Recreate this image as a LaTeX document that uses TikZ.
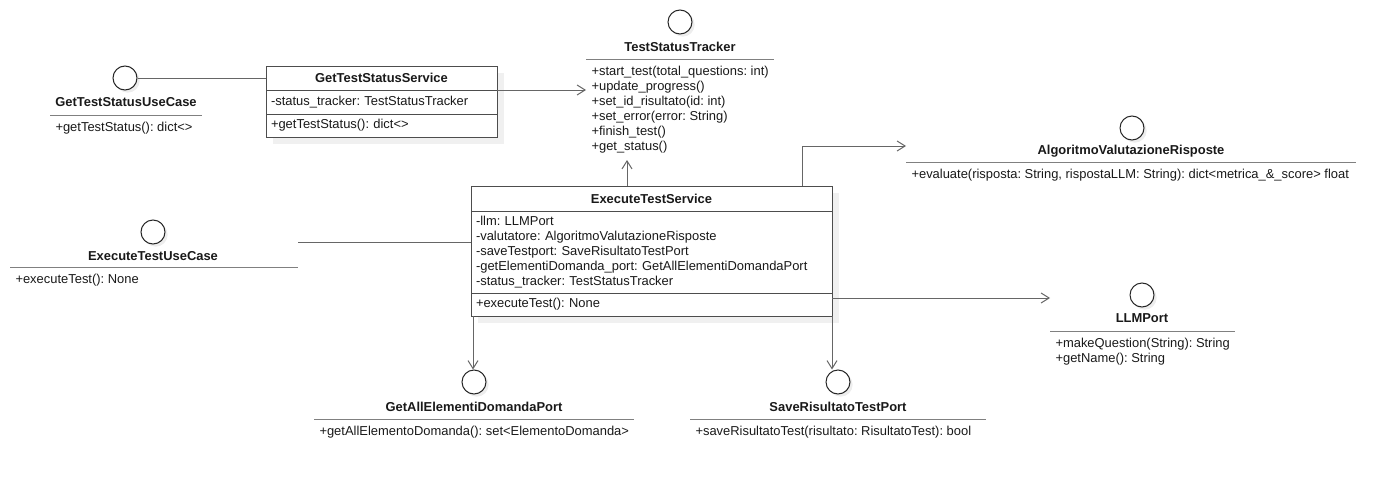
\documentclass[tikz,border=0pt]{standalone}
\usepackage{fontspec}
\setmainfont{Liberation Sans}
\usetikzlibrary{arrows.meta,positioning,shadows}
\tikzset{>={Straight Barb[length=6pt,width=7.5pt]}}
\definecolor{boxline}{HTML}{4D4D4D}
\definecolor{conn}{HTML}{666666}
\definecolor{under}{HTML}{808080}
\newcommand*{\umlfont}{\fontsize{9.7}{11.25}\selectfont\frenchspacing}

\begin{document}
\begin{tikzpicture}[x=0.75pt, y=-0.75pt, line width=0.75pt,
    every node/.style={font=\umlfont, text=black!90},
    port/.style={circle, draw=black!85, fill=white, minimum size=18pt, inner sep=0pt,
        drop shadow={shadow xshift=2pt, shadow yshift=-2pt, fill=black!7, opacity=1}},
    ptitle/.style={font=\umlfont\bfseries, inner sep=1pt},
    members/.style={anchor=north west, align=left, inner xsep=3.75pt, inner ysep=5pt},
    box/.style={draw=boxline, fill=white, inner xsep=3.75pt, inner ysep=0pt, outer sep=0pt,
        drop shadow={shadow xshift=5pt, shadow yshift=-5pt, fill=black!6, opacity=1}},
    boxtitle/.style={box, font=\umlfont\bfseries, align=center},
    boxpart/.style={box, below=0pt of #1, align=left},
    sep/.style={draw=under},
    link/.style={draw=conn},
    assoc/.style={draw=conn, ->}]
    \useasboundingbox (0,0) rectangle (1396,482);

    % interfaces
    \node[port] (gtsuc) at (125,78) {};
    \node[ptitle] (gtsucT) at (126,102) {GetTestStatusUseCase};
    \node[members] (gtsucM) at (50,115) {+getTestStatus(): dict<>};
    \draw[sep] (gtsucM.north west) -- ++(152,0);

    \node[port] (tst) at (680,22) {};
    \node[ptitle] (tstT) at (680,47) {TestStatusTracker};
    \node[members] (tstM) at (586,59) {+start\_test(total\_questions: int)\\+update\_progress()\\+set\_id\_risultato(id: int)\\+set\_error(error: String)\\+finish\_test()\\+get\_status()};
    \draw[sep] (tstM.north west) -- ++(188,0);

    \node[port] (avr) at (1132,128) {};
    \node[ptitle] (avrT) at (1131,151) {AlgoritmoValutazioneRisposte};
    \node[members] (avrM) at (906,162) {+evaluate(risposta: String, rispostaLLM: String): dict<metrica\_\&\_score> float};
    \draw[sep] (avrM.north west) -- ++(450,0);

    \node[port] (etuc) at (153,232) {};
    \node[ptitle] (etucT) at (153,256) {ExecuteTestUseCase};
    \node[members] (etucM) at (10,267) {+executeTest(): None};
    \draw[sep] (etucM.north west) -- ++(288,0);

    \node[port] (ga) at (474,382) {};
    \node[ptitle] (gaT) at (474,407) {GetAllElementiDomandaPort};
    \node[members] (gaM) at (314,419) {+getAllElementoDomanda(): set<ElementoDomanda>};
    \draw[sep] (gaM.north west) -- ++(320,0);

    \node[port] (srt) at (838,382) {};
    \node[ptitle] (srtT) at (838,407) {SaveRisultatoTestPort};
    \node[members] (srtM) at (690,419) {+saveRisultatoTest(risultato: RisultatoTest): bool};
    \draw[sep] (srtM.north west) -- ++(296,0);

    \node[port] (llm) at (1142,295) {};
    \node[ptitle] (llmT) at (1142,318) {LLMPort};
    \node[members] (llmM) at (1050,331) {+makeQuestion(String): String\\+getName(): String};
    \draw[sep] (llmM.north west) -- ++(185,0);

    % services
    \node[boxtitle, minimum width=173.25pt, minimum height=18pt] (gtss) at (381.5,78) {GetTestStatusService};
    \node[boxpart=gtss, text width=165.75pt, minimum height=18pt] (gtssA) {-status\_tracker: TestStatusTracker};
    \node[boxpart=gtssA, text width=165.75pt, minimum height=17.25pt] (gtssM) {+getTestStatus(): dict<>};

    \node[boxtitle, minimum width=270.75pt, minimum height=18.75pt] (ets) at (651.5,198.5) {ExecuteTestService};
    \node[boxpart=ets, text width=263.25pt, minimum height=61.5pt] (etsA) {-llm: LLMPort\\-valutatore: AlgoritmoValutazioneRisposte\\-saveTestport: SaveRisultatoTestPort\\-getElementiDomanda\_port: GetAllElementiDomandaPort\\-status\_tracker: TestStatusTracker};
    \node[boxpart=etsA, text width=263.25pt, minimum height=17.25pt] (etsM) {+executeTest(): None};

    % connectors
    \coordinate (tstIn) at (627,160);
    \coordinate (avrIn) at (906,146);
    \coordinate (etucOut) at (298,242);
    \draw[link] (gtsuc.east) -- (gtss.west);
    \draw[assoc] (gtss.south east) -- (gtss.south east -| tstM.west);
    \draw[assoc] (ets.north -| tstIn) -- (tstIn);
    \draw[assoc] ([xshift=248.25pt]ets.north west) |- (avrIn);
    \draw[link] (etucOut) -- (etucOut -| etsA.west);
    \draw[assoc] ([xshift=1.5pt]etsM.south west) -- ([xshift=1.5pt]etsM.south west |- ga.north);
    \draw[assoc] (etsM.south east) -- (etsM.south east |- srt.north);
    \draw[assoc] ([yshift=-3.75pt]etsM.north east) -- ([yshift=-3.75pt]etsM.north east -| llmM.west);
\end{tikzpicture}
\end{document}
